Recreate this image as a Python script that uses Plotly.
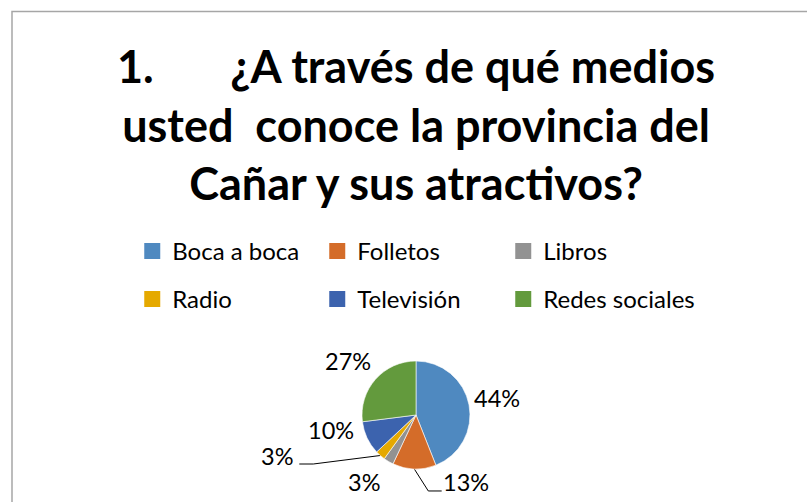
import math
import plotly.graph_objects as go

categories = ["Boca a boca", "Folletos", "Libros", "Radio", "Televisión", "Redes sociales"]
values = [44, 13, 3, 3, 10, 27]
colors = ["#4F89C0", "#D46C29", "#929292", "#E5A900", "#3C63AE", "#639A3D"]

# ---- styling / layout (pixels) ----
W, H = 807, 502
FONT = "Lato"
CX, CY, R = 416, 415, 54
# label centre offset from the slice's outer-edge midpoint (px)
label_offsets = [(27.7, -6.6), (51.7, 13.0), (-24.2, 20.5), (-103.6, 0.5), (-35.8, -8.3), (-27.8, -18.5)]
# leader lines: (elbow, end) relative to label centre, or None
leaders = [None, ((-37.7, 9.0), (-24.3, 9.0)), None, ((36.6, 8.0), (22.6, 8.0)), None, None]
legend_cols = [132.25, 317.25, 503.25]
legend_rows = [251.5, 299.5]

def px(x): return x / W
def py(y): return 1 - y / H

fig = go.Figure()
fig.add_trace(go.Pie(
    labels=categories, values=values, sort=False, direction="clockwise", rotation=0,
    marker=dict(colors=colors, line=dict(color="white", width=0.6)),
    textinfo="none",
    domain=dict(x=[px(CX - R), px(CX + R)], y=[py(CY + R), py(CY - R)]),
    showlegend=False, hoverinfo="label+percent",
))

total = sum(values)
annotations = []
cum = 0
for i, v in enumerate(values):
    mid = (cum + v / 2) / total * 2 * math.pi
    cum += v
    ex, ey = CX + R * math.sin(mid), CY - R * math.cos(mid)
    dx, dy = label_offsets[i]
    tx, ty = ex + dx, ey + dy
    pct = round(v / total * 100)
    annotations.append(dict(x=tx, y=ty, xref="x", yref="y", text=f"{pct}%", showarrow=False,
                            xanchor="center", yanchor="middle",
                            font=dict(family=FONT, size=23.5, color="#000000")))
    if leaders[i]:
        (e1x, e1y), (e2x, e2y) = leaders[i]
        fig.add_trace(go.Scatter(x=[ex, tx + e1x, tx + e2x], y=[ey, ty + e1y, ty + e2y],
                                 mode="lines", line=dict(color="#000000", width=1),
                                 showlegend=False, hoverinfo="skip"))

legend_layouts = {}
for i, (name, col) in enumerate(zip(categories, colors)):
    key = "legend" if i == 0 else f"legend{i + 1}"
    fig.add_trace(go.Scatter(
        x=[None], y=[None], mode="markers", name=name,
        marker=dict(symbol="square", size=17, color=col),
        legend=key,
    ))
    legend_layouts[key] = dict(
        x=px(legend_cols[i % 3]), y=py(legend_rows[i // 3]), xanchor="left", yanchor="middle",
        orientation="h", font=dict(family=FONT, size=24, color="#000000"),
        bgcolor="rgba(0,0,0,0)", itemclick=False, itemdoubleclick=False)

annotations.append(dict(
    x=416, y=124, xref="x", yref="y", xanchor="center", yanchor="middle", showarrow=False,
    text="1.&nbsp;&nbsp;&nbsp;&nbsp;&nbsp;&nbsp;&nbsp;¿A través de qué medios<br>usted&nbsp; conoce la provincia del<br>Cañar y sus atractivos?",
    font=dict(family=FONT, size=45, color="#000000", weight="bold")))

fig.update_layout(
    width=W, height=H, margin=dict(l=0, r=0, t=0, b=0),
    paper_bgcolor="white", plot_bgcolor="white",
    xaxis=dict(visible=False, range=[0, W], domain=[0, 1], fixedrange=True),
    yaxis=dict(visible=False, range=[H, 0], domain=[0, 1], fixedrange=True),
    annotations=annotations,
    shapes=[dict(type="rect", xref="x", yref="y", x0=12, x1=840, y0=11.5, y1=540,
                 line=dict(color="#A6A6A6", width=1.5), fillcolor="rgba(0,0,0,0)", layer="below")],
    **legend_layouts,
)

fig.write_html("out.html", config={"displayModeBar": False},
               post_script="document.body.style.margin='0';document.body.style.overflow='hidden';")
